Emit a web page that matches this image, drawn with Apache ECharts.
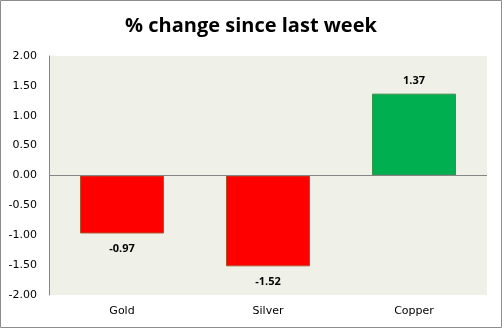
<!DOCTYPE html>
<html>
<head>
<meta charset="utf-8">
<style>
  html, body { margin: 0; padding: 0; background: #ffffff; }
  #chart { width: 502px; height: 328px; }
</style>
<script src="https://cdn.jsdelivr.net/npm/echarts@6/dist/echarts.min.js"></script>
</head>
<body>
<div id="chart"></div>
<script>
// Weekly % change by metal
const categories = ['Gold', 'Silver', 'Copper'];
const changes = [-0.97, -1.52, 1.37];
const yTicks = { min: -2, max: 2, interval: 0.5 };

const chart = echarts.init(document.getElementById('chart'), null, { renderer: 'canvas' });

const barData = changes.map(v => ({
  value: v,
  itemStyle: v < 0
    ? { color: '#FF0000', borderColor: '#B0502A', borderWidth: 1 }
    : { color: '#00B050', borderColor: '#3E8E4E', borderWidth: 1 },
  label: { position: v < 0 ? 'bottom' : 'top', distance: v < 0 ? 10 : 7 }
}));

chart.setOption({
  animation: false,
  backgroundColor: '#ffffff',
  title: {
    text: '% change since last week',
    left: 'center',
    top: 11,
    textStyle: { fontFamily: 'Open Sans', fontWeight: 'bold', fontSize: 20, color: '#000000' }
  },
  graphic: [{
    type: 'rect',
    shape: { x: 0.5, y: 0.5, width: 501, height: 327 },
    style: { fill: 'none', stroke: '#8c8c8c', lineWidth: 1 },
    silent: true
  }],
  grid: {
    left: 49, right: 15, top: 56, bottom: 33,
    show: true, backgroundColor: '#EFF1E9', borderWidth: 0
  },
  xAxis: {
    type: 'category',
    data: categories,
    position: 'bottom',
    axisLine: { show: false },
    axisTick: { show: false },
    axisLabel: { fontFamily: 'DejaVu Sans', fontSize: 11, color: '#000000', margin: 11 }
  },
  yAxis: {
    type: 'value',
    min: yTicks.min, max: yTicks.max, interval: yTicks.interval,
    axisLine: { show: true, lineStyle: { color: '#868686', width: 1 } },
    axisTick: { show: false },
    splitLine: { show: false },
    axisLabel: {
      fontFamily: 'DejaVu Sans', fontSize: 11, color: '#000000', margin: 12,
      formatter: v => v.toFixed(2)
    }
  },
  series: [{
    type: 'bar',
    data: barData,
    barWidth: '57.5%',
    label: {
      show: true,
      fontFamily: 'Open Sans', fontWeight: 'bold', fontSize: 11, color: '#000000',
      formatter: p => p.value.toFixed(2)
    },
    markLine: {
      silent: true,
      symbol: 'none',
      label: { show: false },
      lineStyle: { color: '#868686', width: 1, type: 'solid' },
      data: [{ yAxis: 0 }]
    }
  }]
});
</script>
</body>
</html>
